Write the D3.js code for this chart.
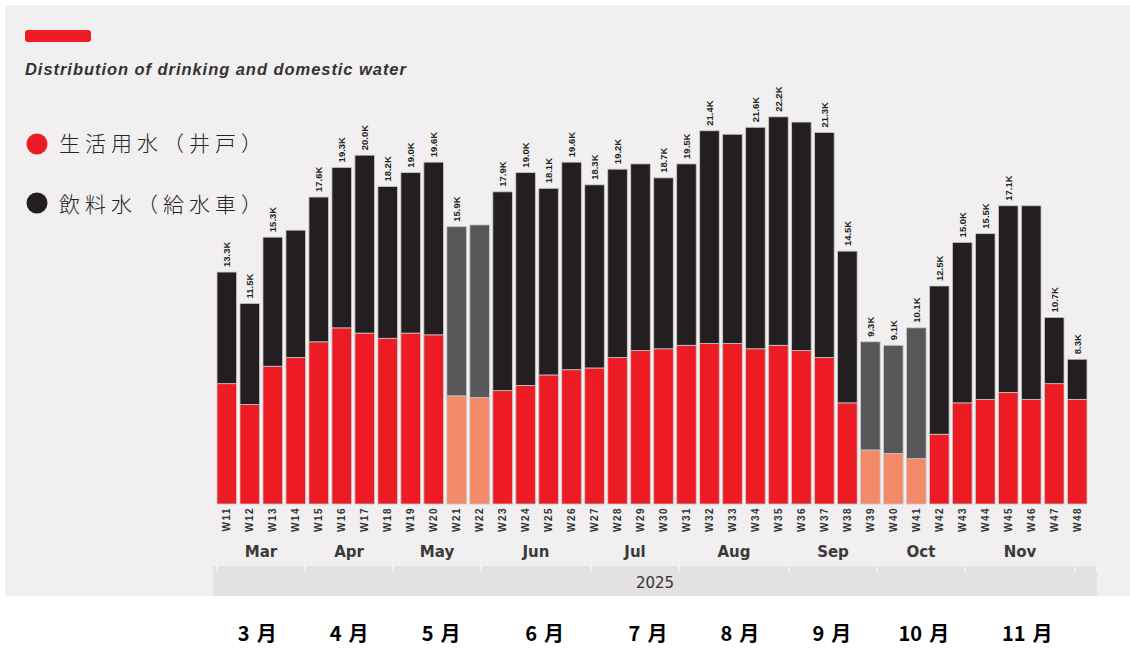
<!DOCTYPE html>
<html>
<head>
<meta charset="utf-8">
<script src="https://cdn.jsdelivr.net/npm/d3@7"></script>
<style>
  body { margin: 0; background: #fff; }
  svg { display: block; }
</style>
</head>
<body>
<div id="chart"></div>
<script>
// weekly water distribution, thousands of litres
const weeks = ['W11', 'W12', 'W13', 'W14', 'W15', 'W16', 'W17', 'W18', 'W19', 'W20',
  'W21', 'W22', 'W23', 'W24', 'W25', 'W26', 'W27', 'W28', 'W29', 'W30',
  'W31', 'W32', 'W33', 'W34', 'W35', 'W36', 'W37', 'W38', 'W39', 'W40',
  'W41', 'W42', 'W43', 'W44', 'W45', 'W46', 'W47', 'W48'];

// 生活用水（井戸）
const domestic = [6.9, 5.7, 7.9, 8.4, 9.3, 10.1, 9.8, 9.5, 9.8, 9.7,
  6.2, 6.1, 6.5, 6.8, 7.4, 7.7, 7.8, 8.4, 8.8, 8.9,
  9.1, 9.2, 9.2, 8.9, 9.1, 8.8, 8.4, 5.8, 3.1, 2.9,
  2.6, 4.0, 5.8, 6.0, 6.4, 6.0, 6.9, 6.0];

// 飲料水（給水車）
const drinking = [6.4, 5.8, 7.4, 7.3, 8.3, 9.2, 10.2, 8.7, 9.2, 9.9,
  9.7, 9.9, 11.4, 12.2, 10.7, 11.9, 10.5, 10.8, 10.7, 9.8,
  10.4, 12.2, 12.0, 12.7, 13.1, 13.1, 12.9, 8.7, 6.2, 6.2,
  7.5, 8.5, 9.2, 9.5, 10.7, 11.1, 3.8, 2.3];

// total labels printed above the bars ('' = none)
const totalLabels = ['13.3K', '11.5K', '15.3K', '', '17.6K', '19.3K', '20.0K', '18.2K', '19.0K', '19.6K',
  '15.9K', '', '17.9K', '19.0K', '18.1K', '19.6K', '18.3K', '19.2K', '', '18.7K',
  '19.5K', '21.4K', '', '21.6K', '22.2K', '', '21.3K', '14.5K', '9.3K', '9.1K',
  '10.1K', '12.5K', '15.0K', '15.5K', '17.1K', '', '10.7K', '8.3K'];

// weeks drawn in muted colours
const mutedWeeks = ['W21', 'W22', 'W39', 'W40', 'W41'];

// month header cells (in calendar weeks)
const months = ['Mar', 'Apr', 'May', 'Jun', 'Jul', 'Aug', 'Sep', 'Oct', 'Nov', ''];
const monthWeeks = [4, 4, 4, 5, 4, 5, 4, 4, 5, 1];
const year = '2025';

// Japanese month captions and how many bars each spans
const monthsJa = ['3', '4', '5', '6', '7', '8', '9', '10', '11'];
const monthsJaBars = [4, 4, 4, 5, 4, 4, 4, 4, 5];

const seriesNames = ['生活用水（井戸）', '飲料水（給水車）'];

const W = 1130;
const H = 649;
const colors = {
  domestic: '#ed1c24',
  drinking: '#231f20',
  domesticMuted: '#f28a6a',
  drinkingMuted: '#58585a',
};

const svg = d3.select('#chart').append('svg')
  .attr('width', W)
  .attr('height', H);

// panel background
svg.append('rect')
  .attr('x', 5).attr('y', 5)
  .attr('width', W - 5).attr('height', 591)
  .attr('fill', '#f1eff0');

// title
svg.append('rect')
  .attr('x', 25).attr('y', 30)
  .attr('width', 66).attr('height', 12)
  .attr('rx', 3)
  .attr('fill', colors.domestic);

svg.append('text')
  .attr('x', 25).attr('y', 75)
  .attr('font-family', 'Liberation Sans, Arial, sans-serif')
  .attr('font-size', 16.5)
  .attr('font-weight', 'bold')
  .attr('font-style', 'italic')
  .attr('letter-spacing', 0.95)
  .attr('fill', '#333')
  .text('Distribution of drinking and domestic water');

// legend
const legend = svg.append('g');
[colors.domestic, colors.drinking].forEach((c, i) => {
  legend.append('circle')
    .attr('cx', 37).attr('cy', 144 + i * 59)
    .attr('r', 10.5)
    .attr('fill', c);
  legend.append('text')
    .attr('x', 59).attr('y', 151 + i * 61)
    .attr('font-family', 'Noto Sans CJK JP, sans-serif')
    .attr('font-size', 21)
    .attr('font-weight', 300)
    .attr('letter-spacing', 5)
    .attr('fill', '#222')
    .text(seriesNames[i]);
});

// scales
const x = d3.scaleBand()
  .domain(weeks)
  .range([217, 1087])
  .paddingInner(0.15)
  .paddingOuter(0);

const y = d3.scaleLinear()
  .domain([0, 25])
  .range([504, 68]);

const rows = weeks.map((w, i) => ({ week: w, domestic: domestic[i], drinking: drinking[i] }));
const stacked = d3.stack().keys(['domestic', 'drinking'])(rows);

const barsG = svg.append('g');
stacked.forEach((layer) => {
  barsG.append('g')
    .selectAll('rect')
    .data(layer)
    .join('rect')
    .attr('x', d => x(d.data.week))
    .attr('y', d => y(d[1]))
    .attr('width', x.bandwidth())
    .attr('height', d => y(d[0]) - y(d[1]))
    .attr('fill', (d) => {
      const muted = mutedWeeks.includes(d.data.week);
      return colors[layer.key + (muted ? 'Muted' : '')];
    })
    .attr('stroke', '#c9c7c8')
    .attr('stroke-width', 0.8);
});

// total labels
const topLayer = stacked[stacked.length - 1];
svg.append('g')
  .selectAll('text')
  .data(topLayer)
  .join('text')
  .attr('transform', d => `translate(${x(d.data.week) + x.bandwidth() / 2},${y(d[1]) - 5}) rotate(-90)`)
  .attr('dy', '0.35em')
  .attr('text-anchor', 'start')
  .attr('font-family', 'Liberation Sans, Arial, sans-serif')
  .attr('font-size', 9.5)
  .attr('font-weight', 'bold')
  .attr('fill', '#231f20')
  .text((d, i) => totalLabels[i]);

// week axis
const xAxis = svg.append('g')
  .attr('transform', 'translate(0,504)')
  .call(d3.axisBottom(x).tickSize(0).tickPadding(0));
xAxis.select('.domain').remove();
xAxis.selectAll('text')
  .attr('transform', 'translate(0,3) rotate(-90)')
  .attr('dy', '0.35em')
  .attr('dx', 0)
  .attr('y', 0)
  .attr('x', 0)
  .attr('text-anchor', 'end')
  .attr('font-family', 'Liberation Sans, Arial, sans-serif')
  .attr('font-size', 10)
  .attr('font-weight', 'bold')
  .attr('letter-spacing', 1.5)
  .attr('fill', '#333');

// month header, laid out on calendar weeks
const monthStart = d3.cumsum([0].concat(monthWeeks.slice(0, -1)));
const xm = d3.scaleLinear()
  .domain([0, d3.sum(monthWeeks)])
  .range([217, 1097]);

svg.append('g')
  .selectAll('text')
  .data(months)
  .join('text')
  .attr('x', (d, i) => xm(monthStart[i] + monthWeeks[i] / 2))
  .attr('y', 557)
  .attr('text-anchor', 'middle')
  .attr('font-family', 'DejaVu Sans, sans-serif')
  .attr('font-size', 15)
  .attr('font-weight', 'bold')
  .attr('fill', '#3a3a3a')
  .text(d => d);

// year band
svg.append('rect')
  .attr('x', 213).attr('y', 566)
  .attr('width', 1097 - 213).attr('height', 30)
  .attr('fill', '#e3e1e1');

svg.append('g')
  .selectAll('line')
  .data(Array.from(monthStart).concat([d3.sum(monthWeeks)]))
  .join('line')
  .attr('x1', d => xm(d)).attr('x2', d => xm(d))
  .attr('y1', 566).attr('y2', 572)
  .attr('stroke', '#f6f5f5')
  .attr('stroke-width', 1.5);

svg.append('text')
  .attr('x', (213 + 1097) / 2)
  .attr('y', 588)
  .attr('text-anchor', 'middle')
  .attr('font-family', 'DejaVu Sans, sans-serif')
  .attr('font-size', 15)
  .attr('fill', '#333')
  .text(year);

// Japanese month labels under the panel, centred on their bars
const jaStart = d3.cumsum([0].concat(monthsJaBars.slice(0, -1)));
const jaG = svg.append('g');
monthsJa.forEach((m, i) => {
  const first = x(weeks[jaStart[i]]);
  const last = x(weeks[jaStart[i] + monthsJaBars[i] - 1]) + x.bandwidth();
  const t = jaG.append('text')
    .attr('x', (first + last) / 2 - 4)
    .attr('y', 641)
    .attr('text-anchor', 'middle')
    .attr('font-family', 'Noto Sans CJK JP, sans-serif')
    .attr('font-size', 20)
    .attr('font-weight', 'bold')
    .attr('fill', '#000');
  t.append('tspan').text(m);
  t.append('tspan').attr('dx', 7).text('月');
});
</script>
</body>
</html>
